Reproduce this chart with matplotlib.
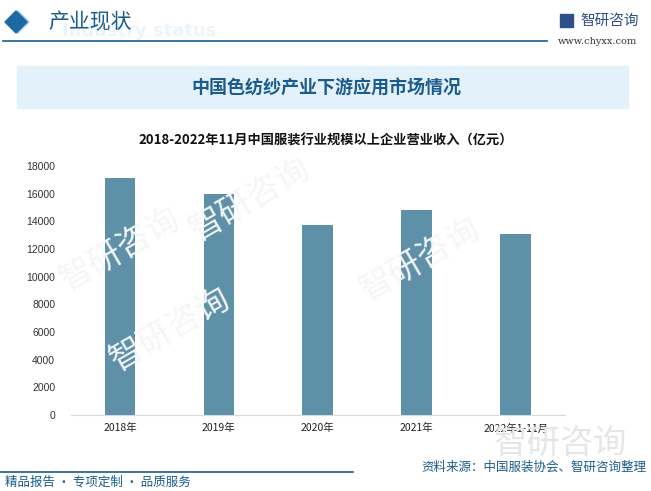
import matplotlib
import matplotlib.pyplot as plt
from matplotlib.patches import Rectangle, Polygon

matplotlib.use('agg')

categories = ['2018年', '2019年', '2020年', '2021年', '2022年1-11月']
revenue = [17110, 16010, 13700, 14820, 13050]
y_ticks = [0, 2000, 4000, 6000, 8000, 10000, 12000, 14000, 16000, 18000]

W, H = 651, 491
DARK_BLUE = '#1b5c8c'
BAR_COLOR = '#5e91a7'
CJK = ['Noto Sans CJK SC', 'DejaVu Sans']

plt.rcParams['font.family'] = CJK


def px(x, y):
    # pixel coords from top-left -> figure fraction
    return x / W, 1 - y / H


fig = plt.figure(figsize=(W / 100, H / 100), dpi=100)

# faint watermarks
for (wx, wy) in [(170, 330), (420, 260), (250, 200), (120, 250)]:
    fig.text(*px(wx, wy), '智研咨询', fontsize=24, color='#f4f6f8', rotation=30,
             ha='center', va='center', zorder=0)

# header
fig.patches.append(Polygon([px(18, 11), px(29, 22), px(18, 33), px(7, 22)], closed=True,
                           transform=fig.transFigure, color='#9ccbe8', zorder=1))
fig.patches.append(Polygon([px(16, 11), px(27, 22), px(16, 33), px(5, 22)], closed=True,
                           transform=fig.transFigure, color='#1c6aa3', zorder=2))
fig.text(*px(62, 31), 'Industry status', fontsize=13, color='#edf5fb', fontweight='bold',
         family='DejaVu Sans', ha='left', va='center', zorder=1)
fig.text(*px(48, 22), '产业现状', fontsize=15, color=DARK_BLUE, ha='left', va='center', zorder=3)
fig.add_artist(plt.Line2D([3 / W, 547 / W], [1 - 41 / H, 1 - 41 / H], color=DARK_BLUE, lw=1.2))
fig.patches.append(Rectangle(px(560, 27), 13 / W, 13 / H, transform=fig.transFigure,
                             color='#2d4f8a', zorder=2))
fig.text(*px(580, 21), '智研咨询', fontsize=10.5, color='#2d4f8a', ha='left', va='center')
fig.text(*px(597, 41), 'www.chyxx.com', fontsize=7, color='#333333', family='DejaVu Serif',
         ha='center', va='center')

# banner
fig.patches.append(Rectangle(px(17, 108), 611 / W, 42 / H, transform=fig.transFigure,
                             color='#e3f1fa', zorder=1))
fig.text(*px(326, 87), '中国色纺纱产业下游应用市场情况', fontsize=13, color=DARK_BLUE,
         fontweight='bold', ha='center', va='center', zorder=3)

# chart title
fig.text(*px(326, 141), '2018-2022年11月中国服装行业规模以上企业营业收入（亿元）', fontsize=9.5,
         color='#111111', fontweight='bold', ha='center', va='center')

# plot area
left, bottom = px(70.5, 415)
right, top = px(565, 166)
ax = fig.add_axes([left, bottom, right - left, top - bottom])
ax.patch.set_alpha(0)
x = range(len(categories))
ax.bar(x, revenue, width=0.31, color=BAR_COLOR, zorder=2)
ax.set_xlim(-0.5, len(categories) - 0.5)
ax.set_ylim(0, 18000)
ax.set_yticks(y_ticks)
ax.set_yticklabels([str(v) for v in y_ticks], fontsize=7.5, family='Liberation Sans',
                   color='#333333')
ax.set_xticks(list(x))
ax.set_xticklabels(categories, fontsize=7.5, color='#222222')
for s in ['top', 'right', 'left']:
    ax.spines[s].set_visible(False)
ax.spines['bottom'].set_color('#d9d9d9')
ax.tick_params(axis='both', length=0, pad=6)
ax.tick_params(axis='y', pad=11)

# bottom watermark logo
fig.text(*px(560, 443), '智研咨询', fontsize=24, color='#e6e6e6', ha='center', va='center', zorder=0)

# footer
fig.add_artist(plt.Line2D([0, 353 / W], [1 - 472 / H, 1 - 472 / H], color=DARK_BLUE, lw=1.2))
fig.text(*px(5, 482), '精品报告 · 专项定制 · 品质服务', fontsize=9, color=DARK_BLUE,
         ha='left', va='center')
fig.text(*px(646, 467), '资料来源：中国服装协会、智研咨询整理', fontsize=9, color=DARK_BLUE,
         ha='right', va='center')

fig.savefig('out.png', dpi=100)
plt.close(fig)
